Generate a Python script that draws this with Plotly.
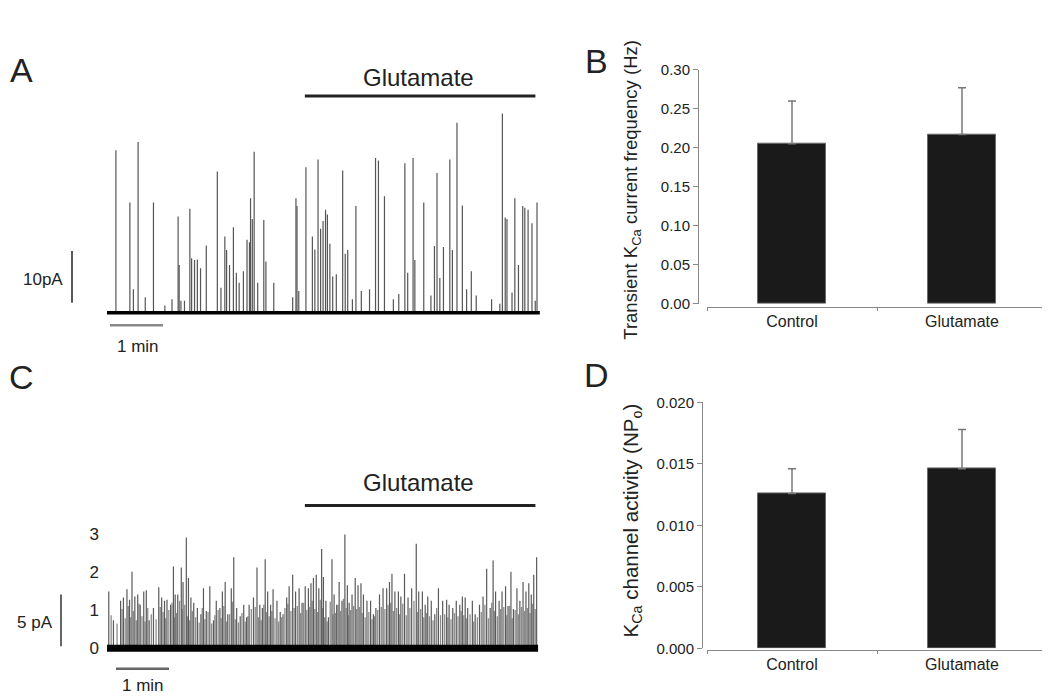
import plotly.graph_objects as go

# ---------------- data ----------------
# A: whole-cell transient KCa currents, event time (s) and peak amplitude (pA)
a_spike_t = [10.1, 25.9, 29.9, 35.2, 43.3, 52.6, 65.5, 73.6, 80.5, 81.7, 83.7, 87.7,
             93.8, 95.8, 99.1, 102.3, 105.9, 112.4, 124.9, 129.0, 133.4, 135.4, 138.7,
             143.1, 146.4, 149.6, 154.4, 158.5, 161.3, 162.5, 164.5, 166.6, 170.6, 177.5,
             179.9, 188.8, 210.2, 213.9, 215.1, 217.1, 225.2, 232.5, 235.3, 238.9, 241.8,
             244.6, 247.4, 249.5, 252.3, 255.5, 259.6, 266.8, 269.7, 272.5, 277.8, 281.8,
             287.9, 297.2, 304.0, 307.3, 314.1, 324.2, 330.3, 337.2, 340.4, 346.5, 348.5,
             358.6, 366.7, 370.7, 373.6, 376.8, 380.9, 388.1, 391.0, 396.2, 402.3, 407.1,
             412.4, 418.0, 435.4, 444.7, 447.6, 450.8, 452.8, 458.5, 461.7, 465.8, 470.6,
             473.0, 476.7, 481.1, 484.8, 486.8]
a_spike_amp = [31.4, 21.3, 4.5, 33.0, 3.0, 21.3, 1.4, 2.6, 18.6, 9.2, 2.3, 2.3,
               20.1, 10.5, 10.2, 10.3, 8.6, 13.0, 27.3, 4.8, 14.7, 12.1, 9.2,
               16.5, 7.7, 5.8, 8.0, 14.1, 13.6, 22.1, 18.1, 31.1, 5.8, 17.9,
               9.9, 5.8, 3.0, 22.1, 20.6, 4.2, 28.1, 14.7, 12.2, 29.6, 16.2,
               17.7, 19.9, 19.0, 13.3, 7.0, 7.4, 27.5, 11.4, 12.1, 2.6, 20.6,
               4.2, 4.5, 29.9, 29.4, 22.5, 2.6, 3.6, 28.9, 7.7, 29.9, 10.2,
               21.3, 3.3, 12.9, 27.0, 6.7, 12.7, 29.6, 12.1, 36.7, 20.7, 4.5,
               8.0, 3.3, 2.6, 1.7, 38.5, 18.4, 18.1, 3.9, 22.1, 9.2, 20.6,
               20.3, 19.9, 17.3, 2.3, 21.3]
a_duration = 490

# C: cell-attached KCa channel openings, time (s) and amplitude (pA)
c_spike_t = [2.0, 7.3, 15.4, 18.6, 22.6, 25.5, 28.3, 31.5, 34.8, 37.6, 41.6, 44.5, 47.7,
             52.6, 58.6, 61.9, 65.1, 67.9, 72.0, 75.2, 77.2, 80.1, 84.1, 86.1, 89.8, 92.2,
             95.0, 98.2, 102.3, 106.3, 109.2, 112.4, 116.4, 120.5, 123.7, 127.8, 130.6,
             133.8, 136.7, 140.7, 143.5, 146.8, 150.8, 154.8, 158.1, 160.9, 165.8, 169.8,
             173.0, 175.9, 179.1, 181.9, 185.2, 188.0, 192.4, 196.1, 199.3, 203.4, 206.2,
             210.2, 213.5, 217.5, 220.8, 224.4, 228.0, 230.9, 233.7, 236.9, 239.8, 243.0,
             245.0, 247.8, 250.7, 254.7, 257.1, 260.0, 262.8, 266.0, 269.3, 272.1, 274.1,
             277.4, 281.0, 284.2, 287.5, 290.3, 294.3, 298.4, 301.6, 304.4, 308.5, 312.5,
             316.6, 319.8, 322.6, 325.9, 329.9, 332.7, 336.8, 340.8, 344.9, 350.1, 352.9,
             357.0, 360.2, 363.1, 367.1, 371.1, 375.2, 380.0, 384.5, 387.3, 391.4, 395.4,
             399.4, 402.3, 405.5, 408.3, 413.6, 416.8, 421.7, 425.7, 429.8, 433.8, 437.1,
             439.9, 443.9, 447.2, 451.2, 454.0, 457.3, 460.1, 464.1, 467.4, 471.0, 474.3,
             477.5, 480.3, 483.1, 486.4]
c_spike_amp = [5.5, 2.7, 4.6, 4.9, 5.7, 4.7, 7.4, 5.0, 5.2, 4.2, 5.5, 5.6, 2.7,
               3.9, 5.9, 4.9, 4.6, 4.7, 4.2, 7.9, 5.2, 5.2, 7.8, 6.4, 10.7, 6.8,
               4.9, 4.4, 3.9, 3.3, 5.8, 3.6, 6.0, 2.7, 4.6, 3.9, 5.5,
               6.4, 3.3, 5.8, 8.8, 3.9, 3.1, 4.2, 3.0, 4.2, 4.9, 7.8,
               4.2, 3.9, 8.6, 5.5, 4.2, 5.7, 4.6, 3.5, 3.3, 4.9, 6.0,
               7.1, 5.5, 5.8, 4.4, 6.0, 5.8, 6.3, 6.8, 7.1, 5.8, 9.6,
               6.9, 4.6, 3.0, 8.6, 5.2, 4.2, 6.4, 4.6, 11.0, 6.1, 4.4,
               5.2, 6.8, 6.1, 6.3, 5.2, 4.6, 4.6, 3.3, 3.9, 5.2, 5.8,
               5.8, 6.4, 7.2, 5.5, 5.5, 5.0, 7.2, 4.9, 5.8, 10.1, 5.5,
               5.5, 4.2, 5.0, 4.6, 3.3, 5.8, 4.6, 4.7, 4.2, 3.9, 4.6,
               4.2, 5.0, 4.9, 3.9, 4.6, 3.3, 4.2, 5.0, 7.7, 3.9, 8.5,
               5.5, 4.6, 5.5, 6.0, 4.1, 7.4, 3.8, 5.8, 4.6, 6.4, 5.5,
               6.3, 5.2, 7.1, 8.8]
# C: the dense single-level openings between the larger events
c_small_t = [4.7, 11.4, 17.0, 20.6, 24.1, 26.9, 29.9, 33.2, 36.2, 39.6, 43.1, 46.1, 50.2,
             55.6, 60.3, 63.5, 66.5, 70.0, 73.6, 76.2, 78.7, 82.1, 85.1, 88.0, 91.0, 93.6,
             96.6, 100.3, 104.3, 107.8, 110.8, 114.4, 118.5, 122.1, 125.8, 129.2, 132.2,
             135.3, 138.7, 142.1, 145.2, 148.8, 152.8, 156.5, 159.5, 163.4, 167.8, 171.4,
             174.5, 177.5, 180.5, 183.6, 186.6, 190.2, 194.3, 197.7, 201.4, 204.8, 208.2,
             211.9, 215.5, 219.2, 222.6, 226.2, 229.5, 232.3, 235.3, 238.4, 241.4, 244.0,
             246.4, 249.3, 252.7, 255.9, 258.6, 261.4, 264.4, 267.7, 270.7, 273.1, 275.8,
             279.2, 282.6, 285.9, 288.9, 292.3, 296.4, 300.0, 303.0, 306.5, 310.5, 314.6,
             318.2, 321.2, 324.3, 327.9, 331.3, 334.8, 338.8, 342.9, 347.5, 351.5, 355.0,
             358.6, 361.7, 365.1, 369.1, 373.2, 377.6, 382.3, 385.9, 389.4, 393.4, 397.4,
             400.9, 403.9, 406.9, 411.0, 415.2, 419.3, 423.7, 427.8, 431.8, 435.5, 438.5,
             441.9, 445.6, 449.2, 452.6, 455.7, 458.7, 462.1, 465.8, 469.2, 472.7, 475.9,
             478.9, 481.7, 484.8]
c_small_amp = [3.2, 2.4, 3.8, 2.9, 4.1, 3.0, 3.6, 2.7, 4.3, 3.1, 2.6, 3.9, 3.3, 2.8, 4.0,
               3.5, 2.9, 3.7, 4.4, 3.0, 3.4, 4.6, 3.8, 4.2, 3.1, 2.7, 3.6, 3.0, 2.5, 3.9,
               2.8, 3.5, 2.4, 3.2, 3.7, 2.9, 4.1, 2.6, 3.3, 4.5, 2.8, 2.5, 3.4, 2.6, 3.1,
               3.8, 4.0, 3.0, 2.7, 4.2, 3.5, 3.1, 3.6, 2.9, 2.6, 3.0, 3.9, 4.3, 3.6, 3.9,
               4.1, 3.4, 4.4, 3.7, 4.0, 4.6, 3.8, 3.5, 4.7, 3.9, 3.0, 2.6, 4.5, 3.3, 3.4,
               4.2, 3.6, 4.8, 3.9, 3.2, 3.7, 4.1, 3.8, 4.0, 3.4, 3.0, 3.5, 2.8, 3.1, 3.7,
               4.0, 3.8, 4.2, 4.4, 3.6, 3.9, 3.3, 4.3, 3.2, 3.9, 4.6, 3.5, 3.8, 3.0, 3.4,
               3.1, 2.7, 3.9, 3.2, 3.3, 3.0, 2.8, 3.4, 3.1, 3.6, 3.2, 2.9, 3.3, 2.6, 3.0,
               3.5, 4.2, 2.9, 4.4, 3.6, 3.1, 3.8, 4.0, 3.2, 4.1, 2.9, 3.7, 3.3, 4.0, 3.6,
               3.9, 3.4, 4.3, 3.8]
c_duration = 488
c_unit_pA = 3.68
c_levels = [0, 1, 2, 3]

glutamate_on = [224, 485]  # s

categories = ["Control", "Glutamate"]
freq_mean = [0.205, 0.217]
freq_sem = [0.055, 0.060]
npo_mean = [0.0126, 0.0146]
npo_sem = [0.0020, 0.0032]

# ---------------- layout helpers ----------------
W, H = 1050, 700
PAGE_OFS = 8  # body margin of the html page
FONT = "Liberation Sans, Arial, sans-serif"
TXT = "#222222"


def fx(px):
    return (px - PAGE_OFS) / W


def fy(py):
    return 1 - (py - PAGE_OFS) / H


def prange(p0, p1, origin, scale):
    return [(p0 - origin) / scale, (p1 - origin) / scale]


k_t = 53 / 60  # px per second
t_range = prange(40, 548, 107, k_t)


def t_at(px):
    return (px - 107) / k_t


def spikes(ts, amps):
    xs, ys = [], []
    for t, a in zip(ts, amps):
        xs += [t, t, None]
        ys += [0, a, None]
    return xs, ys


def line(x, y, color, width, ax="", **kw):
    return go.Scatter(x=x, y=y, mode="lines", line=dict(color=color, width=width),
                      xaxis="x" + ax, yaxis="y" + ax, hoverinfo="skip", **kw)


fig = go.Figure()

# ---------------- panel A ----------------
a_px = 5.3  # px per pA
fig.add_trace(line(*spikes(a_spike_t, a_spike_amp), "#555555", 1.2))
fig.add_trace(line([0, a_duration], [0, 0], "black", 3.5))
fig.add_trace(line([t_at(72)] * 2, [1.9, 11.9], "#222", 1.5))
fig.add_trace(line([t_at(110), t_at(110) + 60], [-2.45, -2.45], "#888", 2.5))
fig.add_trace(line(glutamate_on, [41.9, 41.9], "#222", 3))

# ---------------- panel C ----------------
c_px = 10.6
fig.add_trace(line(*spikes(c_small_t, c_small_amp), "#8c8c8c", 1.3, "3"))
fig.add_trace(line(*spikes(c_spike_t, c_spike_amp), "#5a5a5a", 1.2, "3"))
fig.add_trace(line([0, c_duration], [0, 0], "black", 7, "3"))
fig.add_trace(line([t_at(61)] * 2, [0.19, 5.19], "#333", 1.5, "3"))
fig.add_trace(line([t_at(116), t_at(116) + 60], [-1.98, -1.98], "#666", 2.5, "3"))
fig.add_trace(line(glutamate_on, [13.8, 13.8], "#222", 3, "3"))

# ---------------- panels B and D ----------------
bar_style = dict(width=0.4, marker=dict(color="#1a1a1a", line=dict(color="#6a6a6a", width=1)))
fig.add_trace(go.Bar(x=[0, 1], y=freq_mean, xaxis="x2", yaxis="y2",
                     error_y=dict(type="data", symmetric=False, array=freq_sem,
                                  arrayminus=[0, 0], color="#777", thickness=1.5, width=4),
                     **bar_style))
fig.add_trace(go.Bar(x=[0, 1], y=npo_mean, xaxis="x4", yaxis="y4",
                     error_y=dict(type="data", symmetric=False, array=npo_sem,
                                  arrayminus=[0, 0], color="#777", thickness=1.5, width=4),
                     **bar_style))

hidden = dict(visible=False, showgrid=False, zeroline=False)
cat_x = dict(range=[-0.5, 1.5], domain=[fx(707), fx(1047)], anchor="free",
             showline=True, linecolor="#888", linewidth=1, showgrid=False, zeroline=False,
             tickvals=[0, 1], ticktext=categories, ticks="",
             tickfont=dict(size=16, color=TXT),
             minor=dict(tickvals=[-0.5, 0.5, 1.5], ticks="outside", ticklen=3,
                        tickcolor="#888"))
val_y = dict(anchor="free", showline=True, linecolor="#888", linewidth=1, ticks="outside",
             ticklen=5, tickcolor="#888", showgrid=False, zeroline=False,
             tickfont=dict(size=15, color=TXT))

fig.update_layout(
    width=W, height=H, autosize=False,
    margin=dict(l=0, r=0, t=0, b=0),
    paper_bgcolor="white", plot_bgcolor="rgba(0,0,0,0)",
    font=dict(family=FONT, color=TXT),
    showlegend=False, bargap=0,
    xaxis=dict(domain=[fx(40), fx(548)], range=t_range, anchor="y", **hidden),
    yaxis=dict(domain=[fy(360), fy(50)], range=prange(-360, -50, -311, a_px), anchor="x",
               **hidden),
    xaxis3=dict(domain=[fx(40), fx(548)], range=t_range, anchor="y3", **hidden),
    yaxis3=dict(domain=[fy(700), fy(470)], range=prange(-700, -470, -655, c_px),
                anchor="free", position=fx(99), showline=False, ticks="",
                showgrid=False, zeroline=False,
                tickvals=[lv * c_unit_pA for lv in c_levels],
                ticktext=[str(lv) for lv in c_levels],
                tickfont=dict(size=17, color=TXT)),
    xaxis2=dict(position=fy(305), **cat_x),
    yaxis2=dict(domain=[fy(302), fy(62)], range=[0, 0.30], position=fx(698),
                dtick=0.05, tickformat=".2f", **val_y),
    xaxis4=dict(position=fy(657), **cat_x),
    yaxis4=dict(domain=[fy(655), fy(403)], range=[0, 0.020], position=fx(702),
                dtick=0.005, tickformat=".3f", **val_y),
)

ann = [
    dict(text="A", x=fx(21), y=fy(62), xref="paper", yref="paper", font=dict(size=34)),
    dict(text="B", x=fx(596), y=fy(53), xref="paper", yref="paper", font=dict(size=34)),
    dict(text="C", x=fx(21), y=fy(377), xref="paper", yref="paper", font=dict(size=34)),
    dict(text="D", x=fx(596), y=fy(375), xref="paper", yref="paper", font=dict(size=34)),
    dict(text="Glutamate", x=t_at(418), y=(311 - 70) / a_px, xref="x", yref="y",
         font=dict(size=24)),
    dict(text="10pA", x=t_at(65), y=6.4, xref="x", yref="y", xanchor="right",
         font=dict(size=17)),
    dict(text="1 min", x=t_at(138), y=-6.6, xref="x", yref="y", font=dict(size=17)),
    dict(text="Glutamate", x=t_at(418), y=(655 - 485) / c_px, xref="x3", yref="y3",
         font=dict(size=24)),
    dict(text="5 pA", x=t_at(55), y=2.45, xref="x3", yref="y3", xanchor="right",
         font=dict(size=17)),
    dict(text="1 min", x=t_at(143), y=-3.58, xref="x3", yref="y3", font=dict(size=17)),
    dict(text="Transient K<sub>Ca</sub> current frequency (Hz)", x=fx(632), y=fy(185),
         xref="paper", yref="paper", textangle=-90, font=dict(size=18.5)),
    dict(text="K<sub>Ca</sub> channel activity (NP<sub>o</sub>)", x=fx(632), y=fy(524),
         xref="paper", yref="paper", textangle=-90, font=dict(size=20.5)),
]
for a in ann:
    a.setdefault("showarrow", False)
    a.setdefault("xanchor", "center")
    a.setdefault("yanchor", "middle")
    a["font"].update(family=FONT, color=TXT)
fig.update_layout(annotations=ann)

fig.write_html("out.html")
